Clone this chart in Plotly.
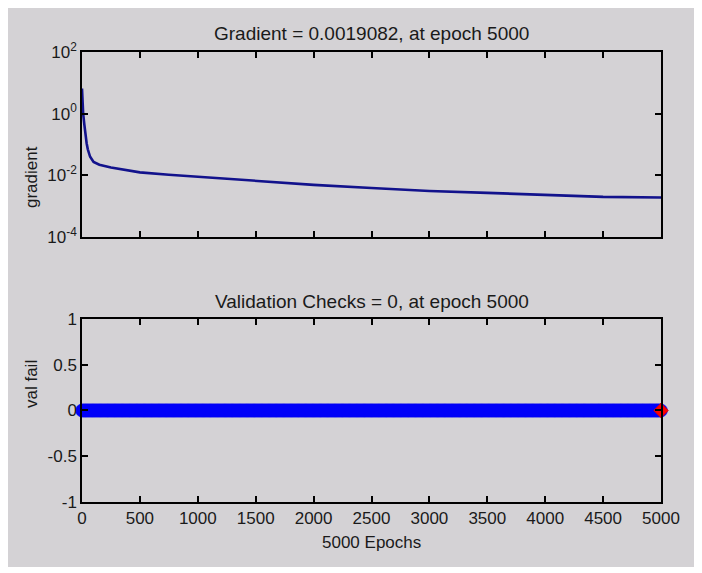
import plotly.graph_objects as go

# gradient curve (epoch, gradient)
grad_epochs = [0, 5, 10, 20, 30, 40, 50, 70, 100, 150, 250, 400, 500, 750, 1000,
               1500, 2000, 2500, 3000, 3500, 4000, 4500, 5000]
grad_values = [6.5, 2.0, 1.0, 0.45, 0.2, 0.11, 0.07, 0.04, 0.027, 0.022, 0.018,
               0.014, 0.0125, 0.0105, 0.009, 0.0065, 0.0049, 0.0039, 0.0031,
               0.0027, 0.0023, 0.0020, 0.0019082]

# validation checks stay at zero the whole run
val_epochs = list(range(0, 5001, 10))
val_fail = [0] * len(val_epochs)
best_epoch = [5000]
best_val = [0]

x_ticks = [0, 500, 1000, 1500, 2000, 2500, 3000, 3500, 4000, 4500, 5000]
grad_ticks = [1e-4, 1e-2, 1, 100]
grad_ticktext = ["10<sup>-4</sup>", "10<sup>-2</sup>", "10<sup>0</sup>", "10<sup>2</sup>"]
val_ticks = [-1, -0.5, 0, 0.5, 1]
val_ticktext = ["-1", "-0.5", "0", "0.5", "1"]

FONT = "Liberation Sans, Arial, sans-serif"
GRAY = "#d4d2d5"

fig = go.Figure()

fig.add_trace(go.Scatter(
    x=grad_epochs, y=grad_values, mode="lines",
    line=dict(color="#12128c", width=2.6),
    xaxis="x", yaxis="y", showlegend=False
))

fig.add_trace(go.Scatter(
    x=val_epochs, y=val_fail, mode="markers",
    marker=dict(symbol="circle", size=13, color="#0000ff",
                line=dict(color="#0000f0", width=0.5)),
    xaxis="x2", yaxis="y2", showlegend=False, cliponaxis=False
))

fig.add_trace(go.Scatter(
    x=best_epoch, y=best_val, mode="markers",
    marker=dict(symbol="diamond", size=11, color="#ff0000",
                line=dict(color="#e00000", width=1)),
    xaxis="x2", yaxis="y2", showlegend=False, cliponaxis=False
))

axis_common = dict(
    showline=True, linecolor="black", linewidth=1.5, mirror="ticks",
    ticks="inside", ticklen=6, tickwidth=1.5, tickcolor="black",
    showgrid=False, zeroline=False,
    tickfont=dict(family=FONT, size=17, color="#1a1a1a"),
)

# the page body adds an 8px offset, so the figure is sized to fit the window
fig.update_layout(
    width=694, height=565,
    paper_bgcolor="white", plot_bgcolor="white",
    margin=dict(l=74, r=41, t=44, b=71),
    font=dict(family=FONT, color="#1a1a1a"),
    xaxis=dict(axis_common, range=[0, 5000], tickvals=x_ticks,
               showticklabels=False, anchor="y"),
    yaxis=dict(axis_common, type="log", range=[-4, 2], tickvals=grad_ticks,
               ticktext=grad_ticktext, domain=[0.5889, 1], anchor="x"),
    xaxis2=dict(axis_common, range=[0, 5000], tickvals=x_ticks, anchor="y2"),
    yaxis2=dict(axis_common, range=[-1, 1], tickvals=val_ticks,
                ticktext=val_ticktext, domain=[0, 0.4067], anchor="x2"),
    shapes=[dict(type="rect", xref="paper", yref="paper", layer="below",
                 x0=-74 / 579, x1=620 / 579, y0=-65 / 450, y1=1 + 44 / 450,
                 fillcolor=GRAY, line=dict(width=0))],
    annotations=[
        dict(text="Gradient = 0.0019082, at epoch 5000", xref="paper", yref="paper",
             x=0.5, y=1.0, yshift=6, xanchor="center", yanchor="bottom",
             showarrow=False, font=dict(size=19)),
        dict(text="Validation Checks = 0, at epoch 5000", xref="paper", yref="paper",
             x=0.5, y=0.4067, yshift=5, xanchor="center", yanchor="bottom",
             showarrow=False, font=dict(size=19)),
        dict(text="gradient", xref="paper", yref="paper", x=0, xshift=-62,
             y=0.7944, textangle=-90, showarrow=False, font=dict(size=17)),
        dict(text="val fail", xref="paper", yref="paper", x=0, xshift=-62,
             y=0.2033, textangle=-90, showarrow=False, font=dict(size=17)),
        dict(text="5000 Epochs", xref="paper", yref="paper", x=0.5, y=0,
             yshift=-40, yanchor="middle", showarrow=False, font=dict(size=17)),
    ],
)

fig.write_html("out.html")
